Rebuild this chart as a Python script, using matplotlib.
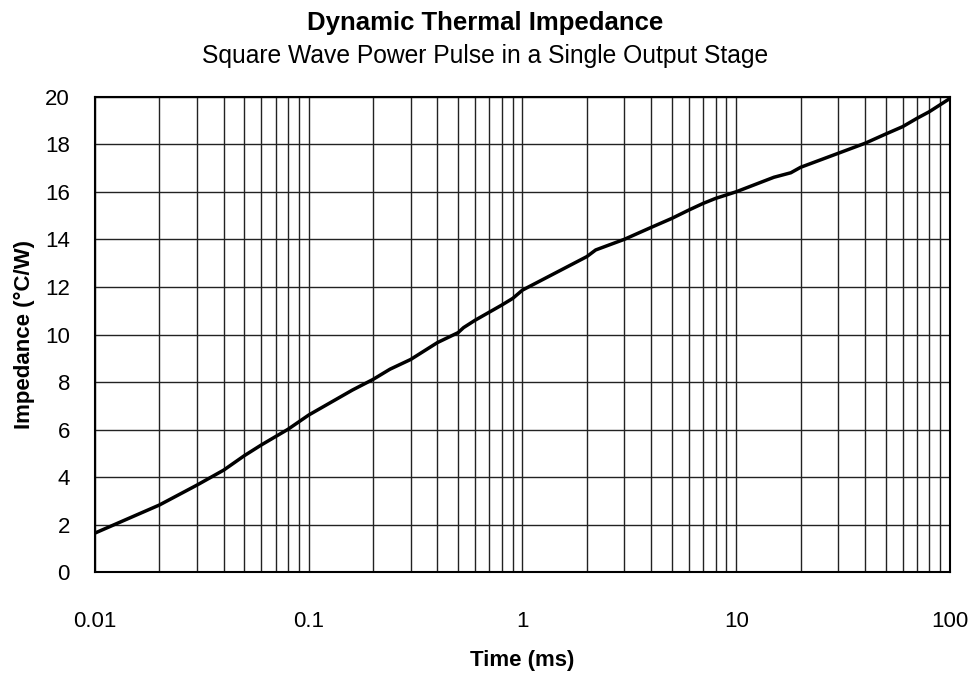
import numpy as np
import matplotlib.pyplot as plt
from matplotlib.ticker import LogLocator, FixedLocator, NullFormatter

plt.rcParams['font.family'] = ['Liberation Sans', 'DejaVu Sans']

# values
time_ms = [0.01, 0.02, 0.03, 0.04, 0.05, 0.06, 0.08, 0.1, 0.16, 0.2, 0.24,
           0.3, 0.4, 0.5, 0.53, 0.6, 0.8, 0.9, 1.0, 2.0, 2.2, 3.0, 4.0,
           5.0, 6.0, 7.0, 8.0, 10.0, 15.0, 18.0, 20.0, 30.0, 40.0, 50.0,
           60.0, 70.0, 80.0, 100.0]
impedance = [1.64, 2.82, 3.66, 4.29, 4.9, 5.35, 6.01, 6.61, 7.66, 8.11, 8.54,
             8.95, 9.66, 10.08, 10.29, 10.6, 11.24, 11.52, 11.87, 13.28, 13.56,
             14.01, 14.51, 14.89, 15.24, 15.52, 15.73, 16.01, 16.62, 16.81,
             17.04, 17.63, 18.05, 18.44, 18.75, 19.1, 19.38, 19.94]

x_ticks = [0.01, 0.1, 1, 10, 100]
x_tick_labels = ['0.01', '0.1', '1', '10', '100']
y_ticks = list(range(0, 21, 2))

fig = plt.figure(figsize=(9.71, 6.74), dpi=100)
ax = fig.add_axes([0.0978, 0.1513, 0.8806, 0.7048])

ax.plot(time_ms, impedance, color='black', linewidth=2.5, zorder=3)

ax.set_xscale('log')
ax.set_xlim(0.01, 100)
ax.set_ylim(0, 20)

ax.xaxis.set_major_locator(FixedLocator(x_ticks))
ax.set_xticklabels(x_tick_labels)
ax.xaxis.set_minor_locator(LogLocator(base=10, subs=np.arange(2, 10)))
ax.xaxis.set_minor_formatter(NullFormatter())
ax.set_yticks(y_ticks)

ax.grid(True, which='both', axis='x', color='#222222', linewidth=1.0)
ax.grid(True, which='major', axis='y', color='#222222', linewidth=1.0)

ax.tick_params(axis='both', which='both', length=0, labelsize=16)
ax.tick_params(axis='x', pad=28)
ax.tick_params(axis='y', pad=18)

for s in ax.spines.values():
    s.set_linewidth(1.5)
    s.set_color('black')

ax.set_xlabel('Time (ms)', fontsize=16, fontweight='bold', labelpad=13)
ax.set_ylabel('Impedance (°C/W)', fontsize=16, fontweight='bold', labelpad=7)

fig.text(0.5, 0.955, 'Dynamic Thermal Impedance', ha='center', va='baseline',
         fontsize=18.5, fontweight='bold')
fig.text(0.5, 0.906, 'Square Wave Power Pulse in a Single Output Stage',
         ha='center', va='baseline', fontsize=17.7)

fig.savefig('out.png', dpi=100)
